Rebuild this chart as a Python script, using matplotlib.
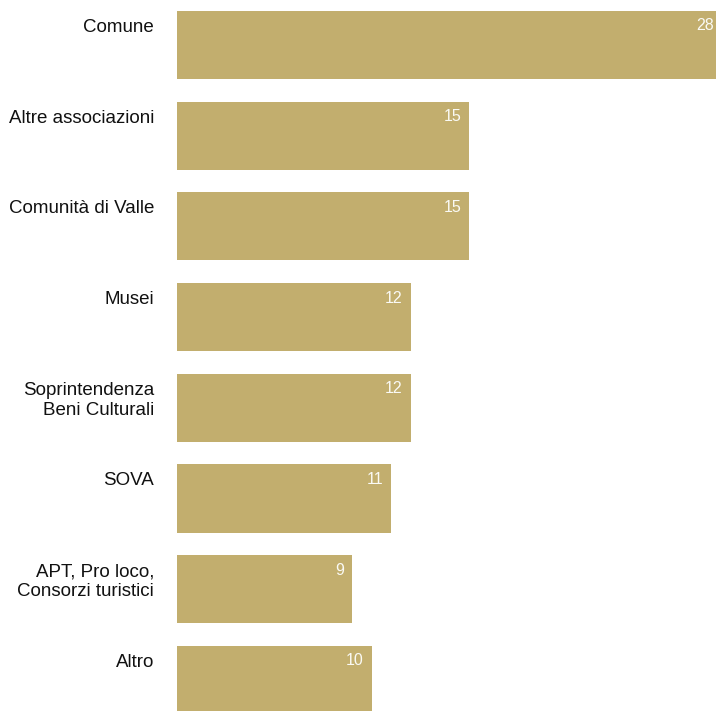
import matplotlib
matplotlib.use("Agg")
import matplotlib.pyplot as plt
from matplotlib.transforms import offset_copy

plt.rcParams['font.family'] = ['Liberation Sans', 'DejaVu Sans']

# data
categories = ["Comune", "Altre associazioni", "Comunità di Valle", "Musei",
              "Soprintendenza\nBeni Culturali", "SOVA",
              "APT, Pro loco,\nConsorzi turistici", "Altro"]
values = [28, 15, 15, 12, 12, 11, 9, 10]

BAR_COLOR = "#C2AE6E"

fig = plt.figure(figsize=(7.16, 7.11), dpi=100)
ax = fig.add_axes([177 / 716, 0, 1 - 177 / 716, 1])

ypos = list(range(len(categories)))
ax.barh(ypos, values, height=0.75, color=BAR_COLOR)

ax.set_xlim(0, 27.68)
ax.set_ylim(7.343, -0.496)
ax.axis("off")

for y, cat, v in zip(ypos, categories, values):
    top = y - 0.375
    # category label, right aligned left of the axes, top aligned with the bar
    tr = offset_copy(ax.transData, fig=fig, x=-23, y=-8, units="dots")
    ax.text(0, top, cat, transform=tr, ha="right", va="top",
            fontsize=13.5, color="#111111", linespacing=1.22, clip_on=False)
    # value label inside the bar, top-right
    tr2 = offset_copy(ax.transData, fig=fig, x=-8, y=-15, units="dots")
    ax.text(v, top, str(v), transform=tr2, ha="right", va="center",
            fontsize=11.5, color="#FAFAF5")

fig.savefig("out.png", dpi=100)
